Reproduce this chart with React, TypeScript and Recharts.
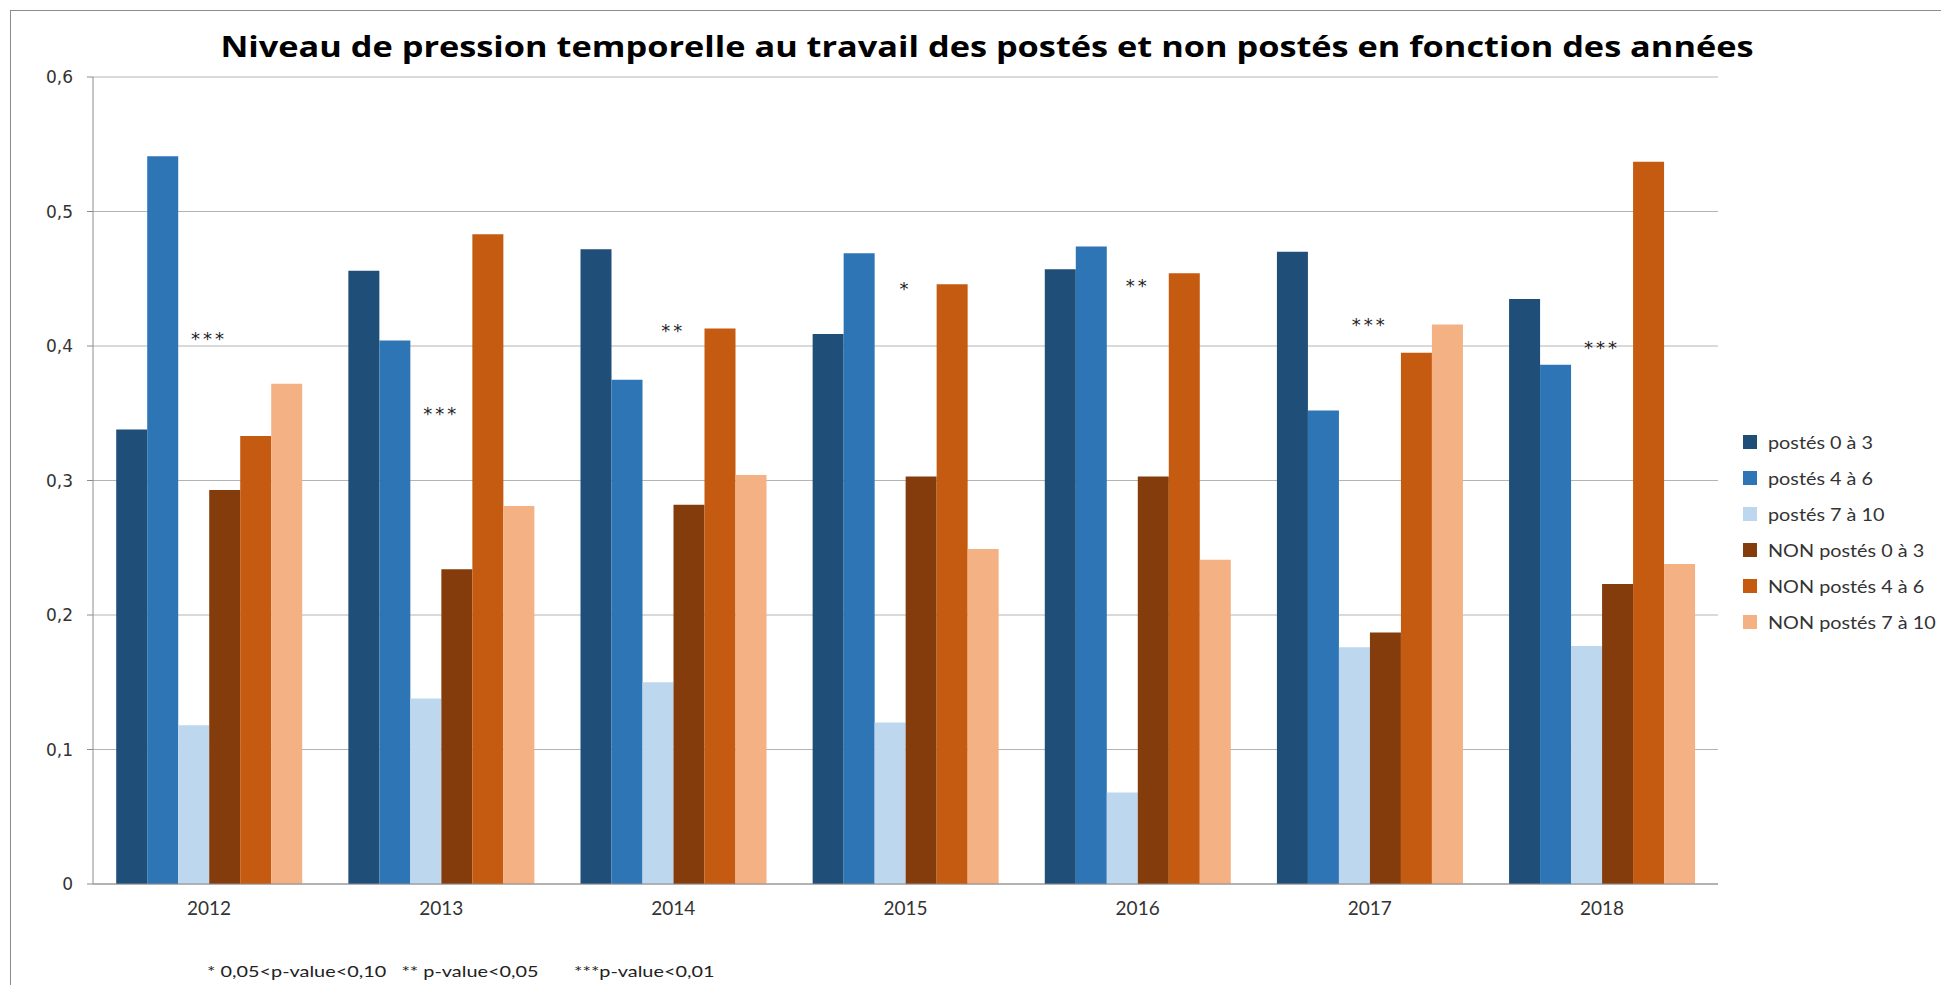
import { ComposedChart, Bar, Scatter, XAxis, YAxis, CartesianGrid } from 'recharts';

const YEARS = ['2012', '2013', '2014', '2015', '2016', '2017', '2018'];
const POSTES_0_3 = [0.338, 0.456, 0.472, 0.409, 0.457, 0.47, 0.435];
const POSTES_4_6 = [0.541, 0.404, 0.375, 0.469, 0.474, 0.352, 0.386];
const POSTES_7_10 = [0.118, 0.138, 0.15, 0.12, 0.068, 0.176, 0.177];
const NON_0_3 = [0.293, 0.234, 0.282, 0.303, 0.303, 0.187, 0.223];
const NON_4_6 = [0.333, 0.483, 0.413, 0.446, 0.454, 0.395, 0.537];
const NON_7_10 = [0.372, 0.281, 0.304, 0.249, 0.241, 0.416, 0.238];
// significance stars and the height they sit at
const STARS = ['***', '***', '**', '*', '**', '***', '***'];
const STAR_LEVEL = [0.409, 0.353, 0.415, 0.446, 0.448, 0.419, 0.402];
const Y_TICKS = [0, 0.1, 0.2, 0.3, 0.4, 0.5, 0.6];

const SERIES = [
  { key: 'p03', name: 'postés 0 à 3', values: POSTES_0_3, color: '#1F4E79' },
  { key: 'p46', name: 'postés 4 à 6', values: POSTES_4_6, color: '#2E75B6' },
  { key: 'p710', name: 'postés 7 à 10', values: POSTES_7_10, color: '#BDD7EE' },
  { key: 'n03', name: 'NON postés 0 à 3', values: NON_0_3, color: '#843C0C' },
  { key: 'n46', name: 'NON postés 4 à 6', values: NON_4_6, color: '#C55A11' },
  { key: 'n710', name: 'NON postés 7 à 10', values: NON_7_10, color: '#F4B183' },
];

const data = YEARS.map((year, i) => {
  const row: Record<string, string | number> = { year, star: STAR_LEVEL[i], stars: STARS[i] };
  SERIES.forEach((s) => {
    row[s.key] = s.values[i];
  });
  return row;
});

// the original picture is stretched sideways a bit, text follows that
const STRETCH = 1.22;

const StarMark = (props: any) => {
  const { cx, cy, payload } = props;
  return (
    <text
      x={cx}
      y={cy + 11}
      textAnchor="middle"
      fontFamily="DejaVu Sans"
      fontSize={18}
      letterSpacing={3}
      fill="#222"
    >
      {payload.stars}
    </text>
  );
};

export default function App() {
  return (
    <div
      style={{
        position: 'absolute',
        left: 0,
        top: 0,
        width: 1941,
        height: 985,
        background: '#fff',
        overflow: 'hidden',
      }}
    >
      <div
        style={{
          position: 'absolute',
          left: 10,
          top: 10,
          width: 2000,
          height: 1000,
          borderLeft: '1px solid #8c8c8c',
          borderTop: '1px solid #8c8c8c',
        }}
      />
      <div
        style={{
          position: 'absolute',
          left: 0,
          top: 26,
          width: 1974,
          textAlign: 'center',
          fontFamily: 'Open Sans',
          fontWeight: 700,
          fontSize: 29,
          color: '#000',
          whiteSpace: 'nowrap',
          transform: `scaleX(${STRETCH * 0.97})`,
          transformOrigin: '987px 0',
        }}
      >
        Niveau de pression temporelle au travail des postés et non postés en fonction des années
      </div>

      <div style={{ position: 'absolute', left: 0, top: 0 }}>
        <ComposedChart
          width={1941}
          height={985}
          data={data}
          margin={{ top: 77, right: 223, bottom: 71, left: 0 }}
          barCategoryGap="10%"
          barGap={0}
        >
          <CartesianGrid vertical={false} stroke="#B4B4B4" />
          <XAxis
            dataKey="year"
            height={30}
            tickLine={false}
            axisLine={{ stroke: '#8c8c8c' }}
            tick={{ fontFamily: 'Lato', fontSize: 19, fill: '#333' }}
            tickMargin={12}
          />
          <YAxis
            width={93}
            domain={[0, 0.6]}
            ticks={Y_TICKS}
            tickSize={6}
            tickLine={{ stroke: '#8c8c8c' }}
            axisLine={{ stroke: '#8c8c8c' }}
            tick={{ fontFamily: 'DejaVu Sans', fontSize: 17, fill: '#333' }}
            tickMargin={14}
            tickFormatter={(v: number) => (v === 0 ? '0' : v.toFixed(1).replace('.', ','))}
          />
          {SERIES.map((s) => (
            <Bar key={s.key} dataKey={s.key} name={s.name} fill={s.color} isAnimationActive={false} />
          ))}
          <Scatter dataKey="star" shape={StarMark} isAnimationActive={false} legendType="none" />
        </ComposedChart>
      </div>

      <div style={{ position: 'absolute', left: 1743, top: 424 }}>
        {SERIES.map((s) => (
          <div
            key={s.key}
            style={{ display: 'flex', alignItems: 'center', height: 36, whiteSpace: 'nowrap' }}
          >
            <span
              style={{ display: 'inline-block', width: 14, height: 14, background: s.color, marginRight: 11 }}
            />
            <span
              style={{
                display: 'inline-block',
                fontFamily: 'Lato',
                fontSize: 18,
                color: '#333',
                transform: 'scaleX(1.1)',
                transformOrigin: '0 50%',
              }}
            >
              {s.name}
            </span>
          </div>
        ))}
      </div>

      <div
        style={{
          position: 'absolute',
          left: 207,
          top: 961,
          fontFamily: 'Lato',
          fontSize: 16,
          color: '#222',
          whiteSpace: 'pre',
          transform: 'scaleX(1.24)',
          transformOrigin: '0 50%',
        }}
      >
        {'* 0,05<p-value<0,10   ** p-value<0,05       ***p-value<0,01'}
      </div>
    </div>
  );
}
